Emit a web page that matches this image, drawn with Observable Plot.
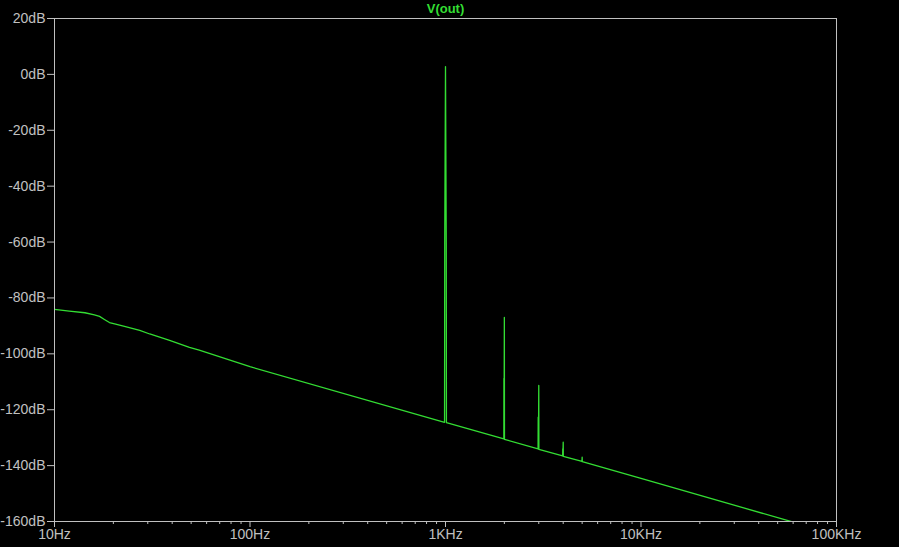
<!DOCTYPE html>
<html>
<head>
<meta charset="utf-8">
<script src="https://cdn.jsdelivr.net/npm/d3@7"></script>
<script src="https://cdn.jsdelivr.net/npm/@observablehq/plot@0.6"></script>
<style>
  html, body { margin: 0; padding: 0; background: #000; }
  #chart { width: 899px; height: 547px; }
</style>
</head>
<body>
<div id="chart"></div>
<script>
// Trace title
const traceName = "V(out)";

// FFT trace: frequency (Hz) and level (dB)
const freqHz = [
  10, 11.9, 14.3, 16, 17, 18, 19.1, 20.3, 22.8, 27.3, 30.7, 38.8, 49, 55, 100,
  989, 991, 1000, 1009, 1011,
  1988, 1990, 1996, 2000, 2003,
  2975, 2980, 2994, 3000, 3004,
  3975, 3980, 3994, 4000, 4005,
  4990, 5000, 5008,
  10000, 60000, 100000
];
const levelDb = [
  -84.1, -84.7, -85.3, -86.1, -86.6, -87.7, -88.8, -89.3, -90.2, -91.6, -92.9, -95.2, -97.7, -98.7, -104.6,
  -124.5, -60.5, 2.8, -60.5, -124.6,
  -130.4, -108.8, -108.8, -87.0, -130.6,
  -134.0, -122.7, -122.7, -111.3, -134.2,
  -136.5, -134.0, -134.0, -131.6, -136.7,
  -138.5, -137.0, -138.6,
  -144.6, -160.2, -164.6
];

// Axes
const xTicks = [10, 100, 1000, 10000, 100000];
const xTickLabels = ["10Hz", "100Hz", "1KHz", "10KHz", "100KHz"];
const xMinorMultipliers = [2, 3, 4, 5, 6, 7, 8, 9];
const xMinorDecades = [10, 100, 1000, 10000];
const yTicks = [20, 0, -20, -40, -60, -80, -100, -120, -140, -160];
const yTickLabels = ["20dB", "0dB", "-20dB", "-40dB", "-60dB", "-80dB", "-100dB", "-120dB", "-140dB", "-160dB"];

const trace = freqHz.map((f, i) => ({f, db: levelDb[i]}));
const xMinor = xMinorDecades.flatMap(d => xMinorMultipliers.map(m => m * d));

const green = "#33dd33";
const grey = "#c0c0c0";

const chart = Plot.plot({
  width: 899,
  height: 547,
  marginLeft: 54,
  marginTop: 18,
  marginRight: 63,
  marginBottom: 26,
  style: {background: "#000", color: grey, fontFamily: "'Liberation Sans', Arial, sans-serif", fontSize: "14px"},
  x: {type: "log", domain: [10, 100000]},
  y: {domain: [-160, 20]},
  marks: [
    Plot.axisX(xMinor, {anchor: "bottom", tickSize: 3, tickFormat: () => "", label: null, stroke: grey}),
    Plot.axisX(xTicks, {anchor: "bottom", tickSize: 6, tickPadding: 2, label: null, stroke: grey, fill: grey,
      tickFormat: (d) => xTickLabels[xTicks.indexOf(d)]}),
    Plot.axisY(yTicks, {anchor: "left", tickSize: 7, tickPadding: 2, label: null, stroke: grey, fill: grey,
      tickFormat: (d) => yTickLabels[yTicks.indexOf(d)]}),
    Plot.line(trace, {x: "f", y: "db", stroke: green, strokeWidth: 1.3, clip: true}),
    Plot.frame({stroke: grey}),
    Plot.text([traceName], {frameAnchor: "top", lineAnchor: "middle", dy: -10, fill: green, fontSize: 13, fontWeight: "bold"})
  ]
});
document.getElementById("chart").appendChild(chart);
</script>
</body>
</html>
